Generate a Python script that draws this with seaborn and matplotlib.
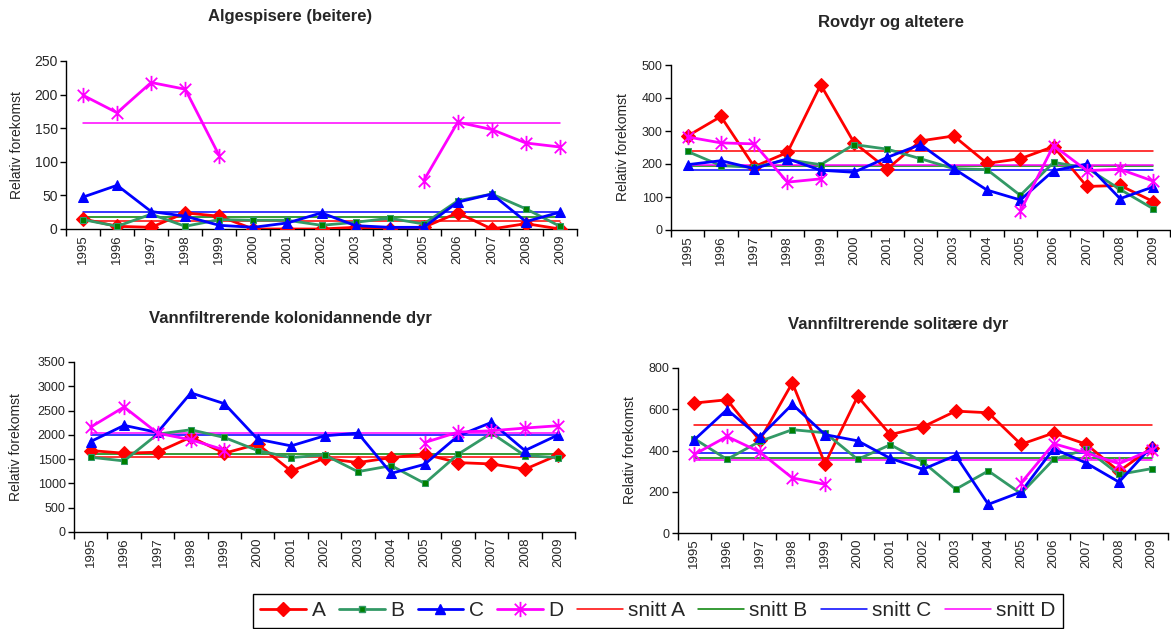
import numpy as np
import pandas as pd
import seaborn as sns
import matplotlib.pyplot as plt
from matplotlib.path import Path
from matplotlib.lines import Line2D

sns.set_style("white")
plt.rcParams["font.family"] = ["Liberation Sans", "DejaVu Sans"]

# data
years = [str(y) for y in range(1995, 2010)]
nan = np.nan

alg_A = [15, 4, 2.5, 24, 19, 0, 0, 0, 2.5, 0, 2.5, 24, 0, 8, 0]
alg_B = [14, 4, 22, 4, 14, 13, 13, 5.5, 10, 16, 7.5, 42, 52, 30, 4]
alg_C = [47.5, 65, 26, 19, 5.5, 2.5, 9, 24, 5, 2.5, 2.5, 40, 52, 11, 25]
alg_D = [199, 173, 218, 208, 109, nan, nan, nan, nan, nan, 72, 159, 148, 128, 122]
alg_snitt = [11.5, 18, 25, 158]

rov_A = [285, 344, 192, 235, 440, 265, 185, 270, 285, 202, 216, 253, 132, 135, 86]
rov_B = [238, 195, 190, 213, 198, 259, 245, 216, 186, 183, 105, 205, 188, 123, 64]
rov_C = [198, 210, 186, 216, 181, 175, 220, 259, 186, 121, 91, 180, 200, 95, 131]
rov_D = [282, 264, 261, 145, 155, nan, nan, nan, nan, nan, 57, 256, 180, 184, 148]
rov_snitt = [240, 195, 181, 196]

kol_A = [1677, 1622, 1643, 1953, 1622, 1808, 1256, 1518, 1429, 1532, 1601, 1429, 1401, 1291, 1587]
kol_B = [1539, 1463, 2015, 2105, 1946, 1677, 1532, 1587, 1242, 1366, 1001, 1601, 2036, 1573, 1532]
kol_C = [1863, 2195, 2050, 2864, 2643, 1911, 1773, 1980, 2036, 1208, 1394, 1980, 2257, 1677, 2001]
kol_D = [2160, 2574, 2036, 1898, 1691, nan, nan, nan, nan, nan, 1842, 2057, 2084, 2140, 2188]
kol_snitt = [1545, 1608, 2005, 2045]

sol_A = [630, 646, 449, 728, 336, 662, 477, 515, 591, 583, 430, 485, 430, 299, 414]
sol_B = [457, 357, 444, 501, 486, 357, 428, 344, 212, 301, 191, 357, 406, 284, 312]
sol_C = [452, 598, 465, 624, 477, 447, 362, 309, 376, 139, 199, 409, 339, 247, 420]
sol_D = [381, 468, 393, 267, 236, nan, nan, nan, nan, nan, 242, 433, 388, 336, 404]
sol_snitt = [525, 362, 388, 352]

series = ["A", "B", "C", "D"]

# asterisk marker like the Excel star
star = Path([(0, -1), (0, 1), (-0.75, -0.75), (0.75, 0.75), (-0.75, 0.75), (0.75, -0.75)],
            [Path.MOVETO, Path.LINETO, Path.MOVETO, Path.LINETO, Path.MOVETO, Path.LINETO])

style = {
    "A": dict(color="#FF0000", marker="D", markersize=7.5, markerfacecolor="#FF0000", markeredgecolor="#FF0000"),
    "B": dict(color="#339966", marker="s", markersize=5, markerfacecolor="#008000", markeredgecolor="#339966"),
    "C": dict(color="#0000FF", marker="^", markersize=7.5, markerfacecolor="#0000FF", markeredgecolor="#0000FF"),
    "D": dict(color="#FF00FF", marker=star, markersize=11, markerfacecolor="none", markeredgecolor="#FF00FF",
              markeredgewidth=1.3),
}
snitt_colors = ["#FF0000", "#008000", "#0000FF", "#FF00FF"]

W, H = 1171, 629
fig = plt.figure(figsize=(W / 100, H / 100), dpi=100)


def px_axes(x0, y0, x1, y1):
    return fig.add_axes([x0 / W, 1 - y1 / H, (x1 - x0) / W, (y1 - y0) / H])


panels = [
    dict(box=(66, 61, 577, 229), data=[alg_A, alg_B, alg_C, alg_D], snitt=alg_snitt, ymax=250, step=50,
         title="Algespisere (beitere)", tpos=(290, 17), ylx=17, ysize=10),
    dict(box=(671, 65, 1170, 230), data=[rov_A, rov_B, rov_C, rov_D], snitt=rov_snitt, ymax=500, step=100,
         title="Rovdyr og altetere", tpos=(891, 23), ylx=623, ysize=9),
    dict(box=(74, 362, 575, 532), data=[kol_A, kol_B, kol_C, kol_D], snitt=kol_snitt, ymax=3500, step=500,
         title="Vannfiltrerende kolonidannende dyr", tpos=(290, 318), ylx=16, ysize=9),
    dict(box=(678, 368, 1168, 533), data=[sol_A, sol_B, sol_C, sol_D], snitt=sol_snitt, ymax=800, step=200,
         title="Vannfiltrerende solitære dyr", tpos=(898, 324), ylx=630, ysize=9),
]

for p in panels:
    x0, y0, x1, y1 = p["box"]
    ax = px_axes(x0, y0, x1, y1)
    pos = np.arange(len(years))

    # mean lines
    for name, val, col in zip(series, p["snitt"], snitt_colors):
        sns.lineplot(x=[pos[0], pos[-1]], y=[val, val], ax=ax, color=col, lw=1.1, zorder=2)

    # data series, broken where values are missing
    for name, vals in zip(series, p["data"]):
        df = pd.DataFrame({"pos": pos, "val": vals})
        df["seg"] = df["val"].isna().cumsum()
        df = df.dropna()
        for _, seg in df.groupby("seg"):
            sns.lineplot(data=seg, x="pos", y="val", ax=ax, lw=2, zorder=3, **style[name])

    ax.set_xlim(-0.5, len(years) - 0.5)
    ax.set_ylim(0, p["ymax"])
    ax.set_yticks(np.arange(0, p["ymax"] + 1, p["step"]))
    ax.set_xticks(pos)
    ax.set_xticklabels(years, rotation=90, fontsize=9.5)
    ax.set_xticks(np.arange(-0.5, len(years)), minor=True)
    ax.tick_params(axis="x", which="major", length=0, pad=4)
    ax.tick_params(axis="x", which="minor", length=5, width=1, direction="out", color="black")
    ax.tick_params(axis="y", length=4, width=1, direction="out", color="black", labelsize=p["ysize"], pad=2)
    ax.yaxis.set_ticks_position("left")
    ax.xaxis.set_ticks_position("bottom")
    for s in ["top", "right"]:
        ax.spines[s].set_visible(False)
    for s in ["left", "bottom"]:
        ax.spines[s].set_color("black")
        ax.spines[s].set_linewidth(1)
    ax.set_xlabel("")
    ax.set_ylabel("Relativ forekomst", fontsize=10)
    # label anchor is its right edge; shift so the centre sits at ylx
    ax.yaxis.set_label_coords((p["ylx"] + 7 - x0) / (x1 - x0), 0.5)
    ax.legend_ = None

    fig.text(p["tpos"][0] / W, 1 - p["tpos"][1] / H, p["title"], ha="center", va="center",
             fontsize=12, fontweight="bold")

handles = [Line2D([], [], lw=2, **style[n]) for n in series]
handles += [Line2D([], [], color=c, lw=1.1) for c in snitt_colors]
labels = series + ["snitt " + n for n in series]
leg = fig.legend(handles, labels, loc="center", bbox_to_anchor=(658 / W, 1 - 611 / H), ncol=8,
                 fontsize=15, frameon=True, fancybox=False, framealpha=1, edgecolor="black",
                 handlelength=2.2, handletextpad=0.25, columnspacing=0.65, borderpad=0.35, numpoints=1)
leg.get_frame().set_linewidth(1)

fig.savefig("out.png", dpi=100)
